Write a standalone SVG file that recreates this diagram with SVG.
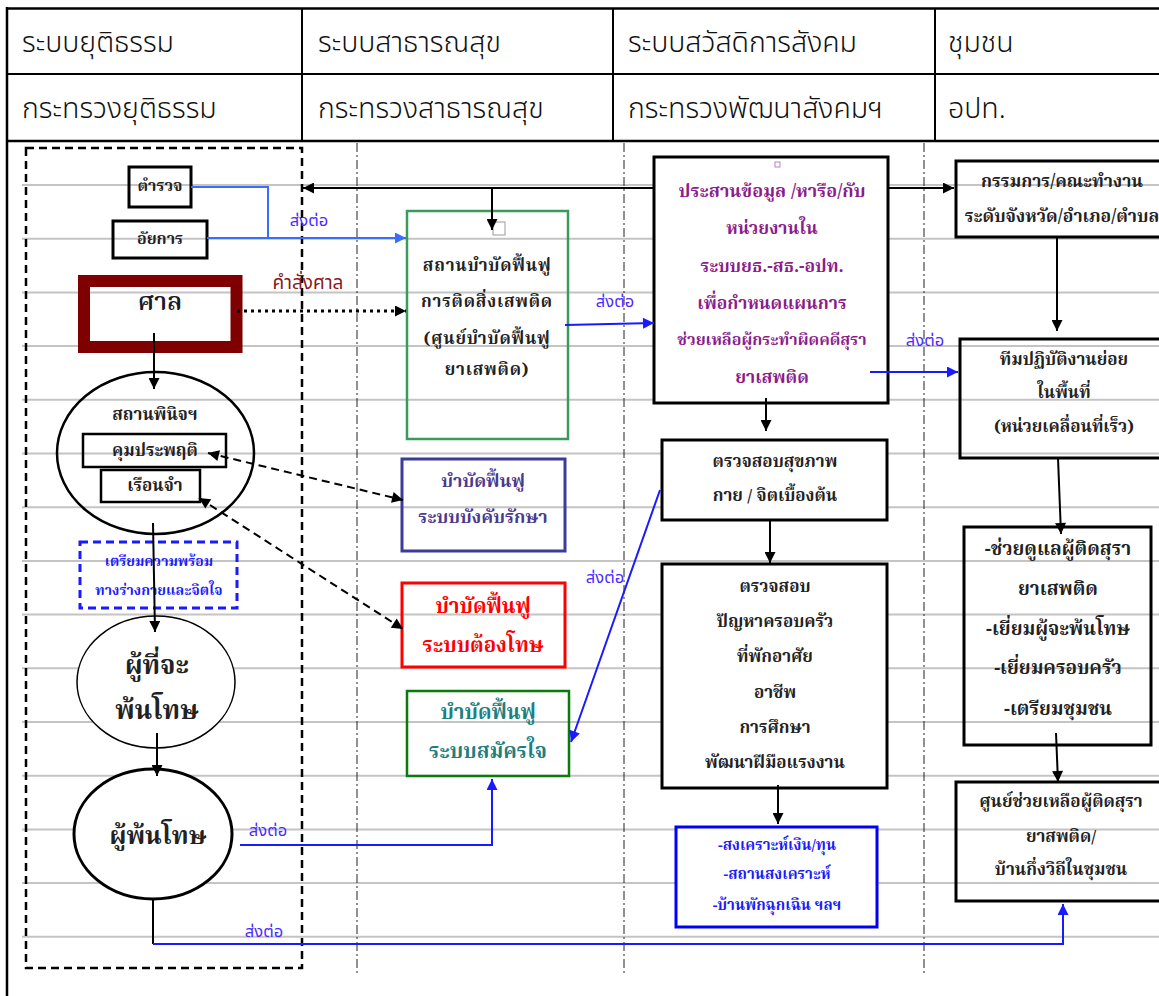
<svg xmlns="http://www.w3.org/2000/svg" width="1159" height="996" viewBox="0 0 1159 996">
<style>
.hd{font-family:"Noto Sans Thai","Noto Sans","Liberation Sans",sans-serif;font-size:28.5px;font-weight:300;fill:#111}
.t{font-family:"Noto Serif Thai","Noto Sans Thai","Liberation Serif",serif;font-weight:bold;text-anchor:middle;dominant-baseline:central;fill:#222}
.lbl{font-family:"Noto Sans Thai","Noto Sans","Liberation Sans",sans-serif;font-size:16.5px;fill:#4a2cff;text-anchor:middle;dominant-baseline:central}
.cPur{fill:#8b1c8b}
.cRed{fill:#ff0000}
.cTeal{fill:#208080}
.cInd{fill:#4b3a8c}
.cBlue{fill:#1a1aff}
.cCourt{fill:#8b1a1a;font-weight:normal;font-family:"Noto Sans Thai","Noto Sans",sans-serif}
.grid line{stroke:#c4c4c4;stroke-width:2}
.lane{stroke:#222;stroke-width:1;stroke-dasharray:9 3 2 3}
.box{fill:none;stroke:#000;stroke-width:3}
.wbox{fill:#fff;stroke:#000;stroke-width:3}
.k{stroke:#000;stroke-width:2;fill:none}
.b{stroke:#1a1aff;stroke-width:2;fill:none}
.lb{stroke:#3a6cff;stroke-width:2;fill:none}
.dash2{stroke-dasharray:8 5}
.dot{stroke-width:3;stroke-dasharray:3 4}
</style>
<defs>
<marker id="ak" viewBox="0 0 10 10" refX="10" refY="5" markerWidth="13" markerHeight="11" markerUnits="userSpaceOnUse" orient="auto-start-reverse"><path d="M0,0 L10,5 L0,10 z" fill="#000"/></marker>
<marker id="ab" viewBox="0 0 10 10" refX="10" refY="5" markerWidth="13" markerHeight="11" markerUnits="userSpaceOnUse" orient="auto-start-reverse"><path d="M0,0 L10,5 L0,10 z" fill="#1a1aff"/></marker>
<marker id="alb" viewBox="0 0 10 10" refX="10" refY="5" markerWidth="13" markerHeight="11" markerUnits="userSpaceOnUse" orient="auto-start-reverse"><path d="M0,0 L10,5 L0,10 z" fill="#3a6cff"/></marker>
</defs>
<rect width="1159" height="996" fill="#fff"/>
<g id="grid" class="grid">
<line x1="22" y1="185" x2="1159" y2="185"/>
<line x1="22" y1="238.7" x2="1159" y2="238.7"/>
<line x1="22" y1="292.4" x2="1159" y2="292.4"/>
<line x1="22" y1="346.1" x2="1159" y2="346.1"/>
<line x1="22" y1="399.8" x2="1159" y2="399.8"/>
<line x1="22" y1="453.5" x2="1159" y2="453.5"/>
<line x1="22" y1="507.2" x2="1159" y2="507.2"/>
<line x1="22" y1="560.9" x2="1159" y2="560.9"/>
<line x1="22" y1="614.6" x2="1159" y2="614.6"/>
<line x1="22" y1="668.3" x2="1159" y2="668.3"/>
<line x1="22" y1="722" x2="1159" y2="722"/>
<line x1="22" y1="775.7" x2="1159" y2="775.7"/>
<line x1="22" y1="829.4" x2="1159" y2="829.4"/>
<line x1="22" y1="883.1" x2="1159" y2="883.1"/>
<line x1="22" y1="936.8" x2="1159" y2="936.8"/>
</g>
<g id="table">
<line x1="7" y1="8.5" x2="1159" y2="8.5" stroke="#000" stroke-width="2.5"/>
<line x1="7" y1="74" x2="1159" y2="74" stroke="#000" stroke-width="2"/>
<line x1="7" y1="141" x2="1159" y2="141" stroke="#000" stroke-width="2.5"/>
<line x1="7" y1="7" x2="7" y2="996" stroke="#000" stroke-width="2.5"/>
<line x1="302" y1="8" x2="302" y2="141" stroke="#000" stroke-width="2"/>
<line x1="613" y1="8" x2="613" y2="141" stroke="#000" stroke-width="2"/>
<line x1="935" y1="8" x2="935" y2="141" stroke="#000" stroke-width="2"/>
<text class="hd" x="22" y="52">ระบบยุติธรรม</text>
<text class="hd" x="318" y="52">ระบบสาธารณสุข</text>
<text class="hd" x="628" y="52">ระบบสวัสดิการสังคม</text>
<text class="hd" x="948" y="52">ชุมชน</text>
<text class="hd" x="22" y="118">กระทรวงยุติธรรม</text>
<text class="hd" x="318" y="118">กระทรวงสาธารณสุข</text>
<text class="hd" x="628" y="118">กระทรวงพัฒนาสังคมฯ</text>
<text class="hd" x="948" y="118">อปท.</text>
<line class="lane" x1="357" y1="143" x2="357" y2="974"/>
<line class="lane" x1="624" y1="143" x2="624" y2="974"/>
<line class="lane" x1="924" y1="143" x2="924" y2="974"/>
<rect x="26" y="148" width="276" height="820" fill="none" stroke="#000" stroke-width="2.5" stroke-dasharray="8 5"/>
</g>
<g id="police">
<rect x="129" y="167" width="62" height="40" class="box"/>
<text class="t" x="160" y="187" font-size="16">ตำรวจ</text>
</g>
<g id="prosecutor">
<rect x="113" y="221" width="94" height="37" class="box"/>
<text class="t" x="160" y="240" font-size="16">อัยการ</text>
</g>
<g id="court">
<rect x="84" y="281" width="152.5" height="66" fill="none" stroke="#7f0000" stroke-width="12"/>
<text class="t" x="160" y="303" font-size="25" style="font-weight:600;fill:#1a1a2a">ศาล</text>
</g>
<g id="juvenile">
<ellipse cx="155.5" cy="453" rx="98.5" ry="81" fill="none" stroke="#000" stroke-width="2.5"/>
<text class="t" x="155" y="415" font-size="17">สถานพินิจฯ</text>
<rect x="83" y="434" width="143" height="33" fill="none" stroke="#000" stroke-width="2.5"/>
<text class="t" x="155" y="451" font-size="17">คุมประพฤติ</text>
<rect x="101" y="470" width="99" height="32" fill="none" stroke="#000" stroke-width="2.5"/>
<text class="t" x="155" y="486" font-size="17">เรือนจำ</text>
</g>
<g id="prepare">
<rect x="80" y="542" width="157" height="66" fill="none" stroke="#1a1aff" stroke-width="3" stroke-dasharray="8 5"/>
<text class="t cBlue" x="159" y="562" font-size="14">เตรียมความพร้อม</text>
<text class="t cBlue" x="159" y="591" font-size="14">ทางร่างกายและจิตใจ</text>
</g>
<g id="to-be-released">
<ellipse cx="156" cy="682" rx="79" ry="66" fill="#fff" stroke="#000" stroke-width="1.5"/>
<text class="t" x="157" y="667" font-size="26">ผู้ที่จะ</text>
<text class="t" x="157" y="712" font-size="26">พ้นโทษ</text>
</g>
<g id="released">
<ellipse cx="153" cy="834" rx="79" ry="65" fill="#fff" stroke="#000" stroke-width="3"/>
<text class="t" x="158" y="837" font-size="25">ผู้พ้นโทษ</text>
</g>
<g id="rehab-center">
<rect x="407" y="211" width="161" height="228" fill="none" stroke="#3a9a5b" stroke-width="2.5"/>
<rect x="493" y="222" width="12" height="13" fill="#fff" stroke="#999" stroke-width="1"/>
<text class="t" x="487" y="266" font-size="17" letter-spacing="0.8">สถานบำบัดฟื้นฟู</text>
<text class="t" x="487" y="302" font-size="17" letter-spacing="0.8">การติดสิ่งเสพติด</text>
<text class="t" x="487" y="339" font-size="17" letter-spacing="0.8">(ศูนย์บำบัดฟื้นฟู</text>
<text class="t" x="487" y="370" font-size="17" letter-spacing="0.8">ยาเสพติด)</text>
</g>
<g id="compulsory">
<rect x="402" y="459" width="163" height="92" fill="none" stroke="#3b3b9b" stroke-width="3"/>
<text class="t cInd" x="483" y="482" font-size="18">บำบัดฟื้นฟู</text>
<text class="t cInd" x="483" y="518" font-size="18">ระบบบังคับรักษา</text>
</g>
<g id="convicted">
<rect x="402" y="583" width="163" height="84" fill="none" stroke="#ff0000" stroke-width="3"/>
<text class="t cRed" x="483" y="607" font-size="20.5">บำบัดฟื้นฟู</text>
<text class="t cRed" x="483" y="646" font-size="20.5">ระบบต้องโทษ</text>
</g>
<g id="voluntary">
<rect x="407" y="691" width="162" height="85" fill="none" stroke="#0a7a0a" stroke-width="2.5"/>
<text class="t cTeal" x="488" y="713" font-size="20.5">บำบัดฟื้นฟู</text>
<text class="t cTeal" x="488" y="752" font-size="20.5">ระบบสมัครใจ</text>
</g>
<g id="coordinate">
<rect x="654" y="157" width="234" height="246" class="wbox"/>
<rect x="775" y="162" width="5" height="5" fill="none" stroke="#c080c0" stroke-width="1"/>
<text class="t cPur" x="772" y="192" font-size="18">ประสานข้อมูล /หารือ/กับ</text>
<text class="t cPur" x="772" y="229" font-size="17.5">หน่วยงานใน</text>
<text class="t cPur" x="772" y="267" font-size="17.5">ระบบยธ.-สธ.-อปท.</text>
<text class="t cPur" x="772" y="304" font-size="17.5">เพื่อกำหนดแผนการ</text>
<text class="t cPur" x="772" y="341" font-size="16">ช่วยเหลือผู้กระทำผิดคดีสุรา</text>
<text class="t cPur" x="772" y="378" font-size="17.5">ยาเสพติด</text>
</g>
<g id="health-check">
<rect x="662" y="440" width="225" height="80" class="wbox"/>
<text class="t" x="775" y="462" font-size="17">ตรวจสอบสุขภาพ</text>
<text class="t" x="775" y="496" font-size="17">กาย / จิตเบื้องต้น</text>
</g>
<g id="family-check">
<rect x="662" y="564" width="225" height="224" class="wbox"/>
<text class="t" x="775" y="587" font-size="17">ตรวจสอบ</text>
<text class="t" x="775" y="622" font-size="17">ปัญหาครอบครัว</text>
<text class="t" x="775" y="657" font-size="17">ที่พักอาศัย</text>
<text class="t" x="775" y="693" font-size="17">อาชีพ</text>
<text class="t" x="775" y="728" font-size="17">การศึกษา</text>
<text class="t" x="775" y="763" font-size="17">พัฒนาฝีมือแรงงาน</text>
</g>
<g id="welfare">
<rect x="676" y="827" width="201" height="100" fill="#fff" stroke="#0000ff" stroke-width="3"/>
<text class="t cBlue" x="777" y="846" font-size="15">-สงเคราะห์เงิน/ทุน</text>
<text class="t cBlue" x="777" y="875" font-size="15">-สถานสงเคราะห์</text>
<text class="t cBlue" x="777" y="906" font-size="15">-บ้านพักฉุกเฉิน ฯลฯ</text>
</g>
<g id="committee">
<rect x="956" y="161" width="215" height="76" class="box"/>
<text class="t" x="1062" y="182" font-size="17.5">กรรมการ/คณะทำงาน</text>
<text class="t" x="1062" y="217" font-size="17.5">ระดับจังหวัด/อำเภอ/ตำบล</text>
</g>
<g id="team">
<rect x="960" y="339" width="211" height="119" class="box"/>
<text class="t" x="1064" y="360" font-size="17">ทีมปฏิบัติงานย่อย</text>
<text class="t" x="1064" y="393" font-size="17">ในพื้นที่</text>
<text class="t" x="1064" y="427" font-size="17">(หน่วยเคลื่อนที่เร็ว)</text>
</g>
<g id="care">
<rect x="964" y="527" width="187" height="218" class="box"/>
<text class="t" x="1058" y="550" font-size="19">-ช่วยดูแลผู้ติดสุรา</text>
<text class="t" x="1058" y="590" font-size="19">ยาเสพติด</text>
<text class="t" x="1058" y="630" font-size="19">-เยี่ยมผู้จะพ้นโทษ</text>
<text class="t" x="1058" y="669" font-size="19">-เยี่ยมครอบครัว</text>
<text class="t" x="1058" y="710" font-size="19">-เตรียมชุมชน</text>
</g>
<g id="halfway">
<rect x="956" y="782" width="215" height="119" class="box"/>
<text class="t" x="1061" y="802" font-size="17">ศูนย์ช่วยเหลือผู้ติดสุรา</text>
<text class="t" x="1061" y="837" font-size="17">ยาสพติด/</text>
<text class="t" x="1061" y="870" font-size="17">บ้านกึ่งวิถีในชุมชน</text>
</g>
<g id="connectors">
<polyline class="lb" points="191,187 268,187 268,238"/>
<line class="lb" x1="207" y1="238" x2="406" y2="238" marker-end="url(#alb)"/>
<line class="k dot" x1="237" y1="311" x2="406" y2="311" marker-end="url(#ak)"/>
<line class="k" x1="654" y1="188" x2="303" y2="188" marker-end="url(#ak)"/>
<line class="k" x1="492" y1="188" x2="492" y2="230" marker-end="url(#ak)"/>
<line class="b" x1="565" y1="325" x2="654" y2="323" marker-end="url(#ab)"/>
<line class="k" x1="888" y1="188" x2="954" y2="188" marker-end="url(#ak)"/>
<line class="k" x1="1057" y1="237" x2="1057" y2="331" marker-end="url(#ak)"/>
<line class="b" x1="870" y1="372" x2="958" y2="372" marker-end="url(#ab)"/>
<line class="k" x1="766" y1="398" x2="766" y2="431" marker-end="url(#ak)"/>
<line class="k" x1="770" y1="520" x2="770" y2="563" marker-end="url(#ak)"/>
<line class="k" x1="1058" y1="458" x2="1061" y2="534" marker-end="url(#ak)"/>
<line class="k" x1="1056" y1="733" x2="1058" y2="782" marker-end="url(#ak)"/>
<line class="k" x1="778" y1="785" x2="778" y2="824" marker-end="url(#ak)"/>
<line class="b" x1="660" y1="490" x2="571" y2="742" marker-end="url(#ab)"/>
<line class="k" x1="154" y1="333" x2="154" y2="389" marker-end="url(#ak)"/>
<line class="k" x1="153" y1="523" x2="155" y2="632" marker-end="url(#ak)"/>
<line class="k" x1="157" y1="733" x2="157" y2="776" marker-end="url(#ak)"/>
<polyline class="b" points="240,845 492,845 492,779" marker-end="url(#ab)"/>
<line class="k" x1="153" y1="899" x2="153" y2="944"/>
<polyline class="b" points="153,944 1063,944 1063,904" marker-end="url(#ab)"/>
<line class="k dash2" x1="208" y1="453" x2="403" y2="500" marker-start="url(#ak)" marker-end="url(#ak)"/>
<line class="k dash2" x1="199" y1="498" x2="403" y2="629" marker-start="url(#ak)" marker-end="url(#ak)"/>
<text class="lbl" x="309" y="220">ส่งต่อ</text>
<text class="t cCourt" x="308" y="283" font-size="19">คำสั่งศาล</text>
<text class="lbl" x="615" y="301">ส่งต่อ</text>
<text class="lbl" x="925" y="340">ส่งต่อ</text>
<text class="lbl" x="605" y="577">ส่งต่อ</text>
<text class="lbl" x="268" y="830">ส่งต่อ</text>
<text class="lbl" x="264" y="931">ส่งต่อ</text>
</g>
</svg>
